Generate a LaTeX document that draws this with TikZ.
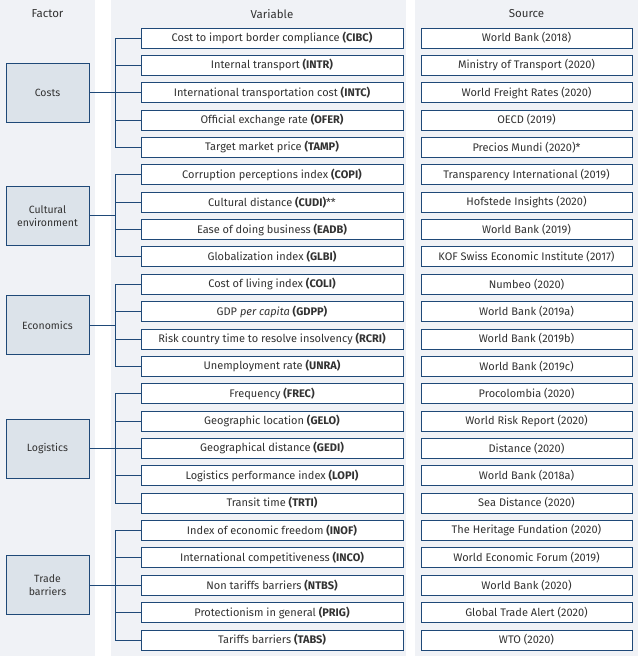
\documentclass[tikz,border=0pt]{standalone}
\usepackage{fontspec}
\setmainfont{Fira Sans}
\definecolor{frame}{RGB}{31,73,120}
\definecolor{colbg}{RGB}{240,242,246}
\definecolor{factorbg}{RGB}{220,227,234}
\definecolor{txt}{RGB}{50,50,50}
\tikzstyle{varbox}=[draw=frame,fill=white,thick,minimum width=262pt,minimum height=20pt,inner sep=0pt,font=\fontsize{11}{12}\selectfont,text=txt]
\tikzstyle{srcbox}=[draw=frame,fill=white,thick,minimum width=211pt,minimum height=20pt,inner sep=0pt,font=\fontsize{11}{12}\selectfont,text=txt]
\tikzstyle{factor}=[draw=frame,fill=factorbg,thick,minimum width=83pt,minimum height=59pt,inner sep=0pt,align=center,font=\fontsize{10.5}{13}\selectfont,text=txt]
\tikzstyle{head}=[font=\fontsize{11.5}{13}\selectfont,text=txt]
\tikzstyle{link}=[draw=frame,thick]
\begin{document}
\begin{tikzpicture}[x=1pt,y=-1pt]
                    \path [use as bounding box] (0,0) rectangle (638,656);
                    \fill[colbg] (0,0) rectangle (95,656);
                    \fill[colbg] (111,0) rectangle (406,656);
                    \fill[colbg] (415,0) rectangle (638,656);

                    \node[head] (hf) at (47.5,14) {Factor};
                    \node[head] (hv) at (272,14) {Variable};
                    \node[head] (hs) at (526.5,14) {Source};

                    \foreach \v/\s [count=\i] in {
                        Cost to import border compliance \textbf{(CIBC)}/World Bank (2018),
                        Internal transport \textbf{(INTR)}/Ministry of Transport (2020),
                        International transportation cost \textbf{(INTC)}/World Freight Rates (2020),
                        Official exchange rate \textbf{(OFER)}/OECD (2019),
                        Target market price \textbf{(TAMP)}/Precios Mundi (2020)*,
                        Corruption perceptions index \textbf{(COPI)}/Transparency International (2019),
                        Cultural distance \textbf{(CUDI)}**/Hofstede Insights (2020),
                        Ease of doing business \textbf{(EADB)}/World Bank (2019),
                        Globalization index \textbf{(GLBI)}/KOF Swiss Economic Institute (2017),
                        Cost of living index \textbf{(COLI)}/Numbeo (2020),
                        GDP \textit{per capita} \textbf{(GDPP)}/World Bank (2019a),
                        Risk country time to resolve insolvency \textbf{(RCRI)}/World Bank (2019b),
                        Unemployment rate \textbf{(UNRA)}/World Bank (2019c),
                        Frequency \textbf{(FREC)}/Procolombia (2020),
                        Geographic location \textbf{(GELO)}/World Risk Report (2020),
                        Geographical distance \textbf{(GEDI)}/Distance (2020),
                        Logistics performance index \textbf{(LOPI)}/World Bank (2018a),
                        Transit time \textbf{(TRTI)}/Sea Distance (2020),
                        Index of economic freedom \textbf{(INOF)}/The Heritage Fundation (2020),
                        International competitiveness \textbf{(INCO)}/World Economic Forum (2019),
                        Non tariffs barriers \textbf{(NTBS)}/World Bank (2020),
                        Protectionism in general \textbf{(PRIG)}/Global Trade Alert (2020),
                        Tariffs barriers \textbf{(TABS)}/WTO (2020)}
                    {
                        \node[varbox] (v\i) at (272,{38+(\i-1)*27.36}) {\v};
                        \node[srcbox] (s\i) at (526.5,{38+(\i-1)*27.36}) {\s};
                    }

                    \foreach \name/\lbl/\first/\last in {
                        costs/Costs/1/5,
                        cult/Cultural\\environment/6/9,
                        econ/Economics/10/13,
                        logi/Logistics/14/18,
                        trade/Trade\\barriers/19/23}
                    {
                        \coordinate (top-\name) at ([xshift=-25pt]v\first.west);
                        \coordinate (bot-\name) at ([xshift=-25pt]v\last.west);
                        \node[factor] (\name) at (47.5,{38+((\first+\last)/2-1)*27.36}) {\lbl};
                        \path[link] (\name.east) -- (\name.east -| top-\name);
                        \path[link] (v\first.west) -- (top-\name) -- (bot-\name) -- (v\last.west);
                        \foreach \k in {\first,...,\last} {
                            \path[link] (v\k.west) -- (v\k.west -| top-\name);
                        }
                    }
                \end{tikzpicture}
\end{document}
